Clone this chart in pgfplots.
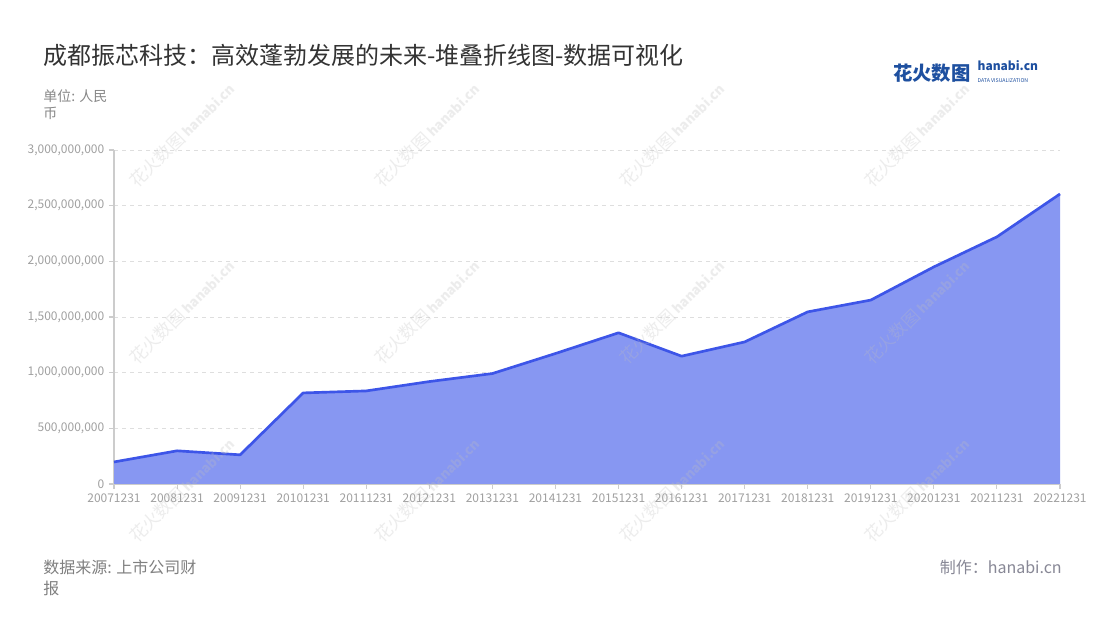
\documentclass[border=0pt]{standalone}
\usepackage{pgfplots}
\pgfplotsset{compat=1.18}
\usepackage{pgfplotstable}
\usepackage{fontspec}
\setmainfont{Noto Sans CJK SC}
\definecolor{fillc}{RGB}{135,151,242}
\definecolor{linec}{RGB}{61,85,232}
\definecolor{tickc}{RGB}{160,160,160}
\definecolor{gridc}{RGB}{222,222,222}
\definecolor{axisc}{RGB}{204,204,204}
\definecolor{titlec}{RGB}{51,51,51}
\definecolor{subc}{RGB}{136,136,136}
\definecolor{footc}{RGB}{128,128,128}
\definecolor{makec}{RGB}{136,136,150}
\definecolor{logoc}{RGB}{30,80,160}
\definecolor{wmc}{RGB}{190,190,190}

\pgfplotstableread{
x y
0 198000000
1 298000000
2 262000000
3 818000000
4 836000000
5 920000000
6 992000000
7 1172000000
8 1358000000
9 1148000000
10 1276000000
11 1546000000
12 1652000000
13 1950000000
14 2220000000
15 2605000000
}\data

\begin{document}
\begin{tikzpicture}
\fill[white] (0,0) rectangle (825pt,465pt);
\begin{axis}[
  at={(85.5pt,102pt)}, anchor=south west,
  width=709.5pt, height=250.5pt, scale only axis,
  xmin=0, xmax=15, ymin=0, ymax=3000000000,
  axis x line=bottom, axis y line=left,
  axis line style={draw=axisc, line width=1pt, -},
  xtick={0,...,15},
  xticklabels={20071231,20081231,20091231,20101231,20111231,20121231,20131231,20141231,20151231,20161231,20171231,20181231,20191231,20201231,20211231,20221231},
  ytick={0,500000000,1000000000,1500000000,2000000000,2500000000,3000000000},
  scaled y ticks=false,
  yticklabel style={/pgf/number format/.cd, fixed, precision=0, 1000 sep={,}},
  /pgf/number format/assume math mode=true,
  tick align=outside, major tick length=3.75pt,
  tick style={draw=axisc, line width=0.8pt},
  ticklabel style={text=tickc, font=\fontsize{9}{9}\selectfont},
  ymajorgrids, grid style={draw=gridc, dash pattern=on 3pt off 3pt, line width=0.6pt},
  clip=false,
]
\addplot[fill=fillc, draw=none] table[x=x,y=y] {\data} \closedcycle;
\addplot[draw=linec, line width=2pt, mark=none, line join=round] table[x=x,y=y] {\data};
\end{axis}
% watermarks
\foreach \cx in {182,427,672,917} {
  \foreach \cy in {135,312,490} {
    \node[rotate=45, text=wmc, opacity=0.28, inner sep=0, font=\fontsize{13}{13}\selectfont] at ({\cx*0.75pt},{(620-\cy)*0.75pt}) {花火数图\,{\fontsize{10}{10}\selectfont\bfseries hanabi.cn}};
  }
}
% title
\node[anchor=west, inner sep=0, text=titlec, font=\fontsize{18}{18}\selectfont] at (32.25pt,423.75pt) {成都振芯科技：高效蓬勃发展的未来-堆叠折线图-数据可视化};
\node[anchor=west, inner sep=0, text=subc, font=\fontsize{10.5}{10.5}\selectfont] at (32.25pt,393pt) {单位: 人民};
\node[anchor=west, inner sep=0, text=subc, font=\fontsize{10.5}{10.5}\selectfont] at (32.25pt,380.25pt) {币};
% logo
\node[anchor=west, inner sep=0, text=logoc, font=\fontsize{14.5}{14.5}\selectfont\bfseries] at (669.75pt,410.25pt) {花火数图};
\node[anchor=west, inner sep=0, text=logoc, font=\fontsize{9}{9}\selectfont\bfseries] at (733pt,416pt) {hanabi.cn};
\node[anchor=west, inner sep=0, text=logoc, font=\fontsize{3.9}{3.9}\selectfont] at (733pt,404.5pt) {DATA VISUALIZATION};
% footer
\node[anchor=west, inner sep=0, text=footc, font=\fontsize{12}{12}\selectfont] at (32.25pt,39.75pt) {数据来源: 上市公司财};
\node[anchor=west, inner sep=0, text=footc, font=\fontsize{12}{12}\selectfont] at (32.25pt,24pt) {报};
\node[anchor=east, inner sep=0, text=makec, font=\fontsize{12}{12}\selectfont] at (796.5pt,39.75pt) {制作：hanabi.cn};
\end{tikzpicture}
\end{document}
